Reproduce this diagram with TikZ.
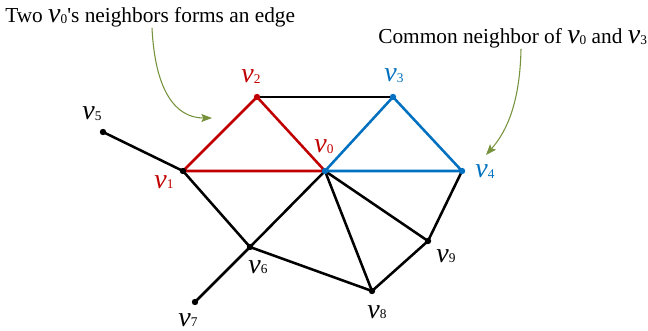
\documentclass[tikz,border=0pt]{standalone}
\usepackage{fontspec}
\setmainfont{Liberation Serif}
\usetikzlibrary{arrows.meta}

\definecolor{vred}{RGB}{192,0,0}
\definecolor{vblue}{RGB}{0,112,192}
\definecolor{vgreen}{RGB}{118,146,60}

\newcommand{\vlab}[1]{{\fontsize{21}{21}\selectfont\textit{v}}\raisebox{-0.6pt}{\fontsize{10}{10}\selectfont #1}}

\begin{document}
\begin{tikzpicture}[x=0.75pt,y=-0.75pt,
    edge/.style={line width=1.9pt},
    lab/.style={font=\fontsize{16}{19}\selectfont, inner sep=0pt, anchor=base},
    note/.style={-{Stealth[length=8pt,width=6pt,inset=1.5pt]}, vgreen, line width=0.8pt}]

  \useasboundingbox (0,0) rectangle (648,331);

  % Vertex positions
  \coordinate (v0) at (325,171);
  \coordinate (v1) at (183,171);
  \coordinate (v2) at (257,97);
  \coordinate (v3) at (393,97);
  \coordinate (v4) at (462,171);
  \coordinate (v5) at (103,132);
  \coordinate (v6) at (250,247);
  \coordinate (v7) at (195,302);
  \coordinate (v8) at (372,291);
  \coordinate (v9) at (428,241);

  % Plain edges
  \foreach \a/\b in {v5/v1, v2/v3, v1/v6, v0/v6, v0/v8, v0/v9, v4/v9, v9/v8, v6/v8, v6/v7}{
    \draw[edge] (\a) -- (\b);
  }

  % Triangle on $v_0,v_1,v_2$ and on $v_0,v_3,v_4$
  \draw[edge, vred] (v1) -- (v2) -- (v0) -- cycle;
  \draw[edge, vblue] (v0) -- (v3) -- (v4) -- cycle;

  \foreach \v/\c in {v0/vblue, v1/black, v2/vred, v3/vblue, v4/vblue,
                     v5/black, v6/black, v7/black, v8/black, v9/black}{
    \fill[\c] (\v) circle (3.2);
  }

  % Vertex labels
  \node[lab, vred]  (l0) at (324,153) {\vlab{0}};
  \node[lab, vred]  (l1) at (164,188) {\vlab{1}};
  \node[lab, vred]  (l2) at (251,83)  {\vlab{2}};
  \node[lab, vblue] (l3) at (394,82)  {\vlab{3}};
  \node[lab, vblue] (l4) at (485,178) {\vlab{4}};
  \node[lab] (l5) at (92,120)  {\vlab{5}};
  \node[lab] (l6) at (258,273) {\vlab{6}};
  \node[lab] (l7) at (188,326) {\vlab{7}};
  \node[lab] (l8) at (377,318) {\vlab{8}};
  \node[lab] (l9) at (446,262) {\vlab{9}};

  % Notes
  \node[lab, anchor=base west] (note1) at (5,23) {Two \vlab{0}\textquotesingle s neighbors forms an edge};
  \node[lab, anchor=base west] (note2) at (378,44) {Common neighbor of \vlab{0} and \vlab{3}};

  \coordinate (s1) at (152,0);
  \coordinate (t1) at (212,118);
  \coordinate (s2) at (521,0);
  \coordinate (t2) at (486,155);

  \draw[note] (s1 |- note1.south) .. controls (155,90) and (175,118) .. (t1);
  \draw[note] (s2 |- note2.south) .. controls (520,100) and (508,130) .. (t2);

\end{tikzpicture}
\end{document}
